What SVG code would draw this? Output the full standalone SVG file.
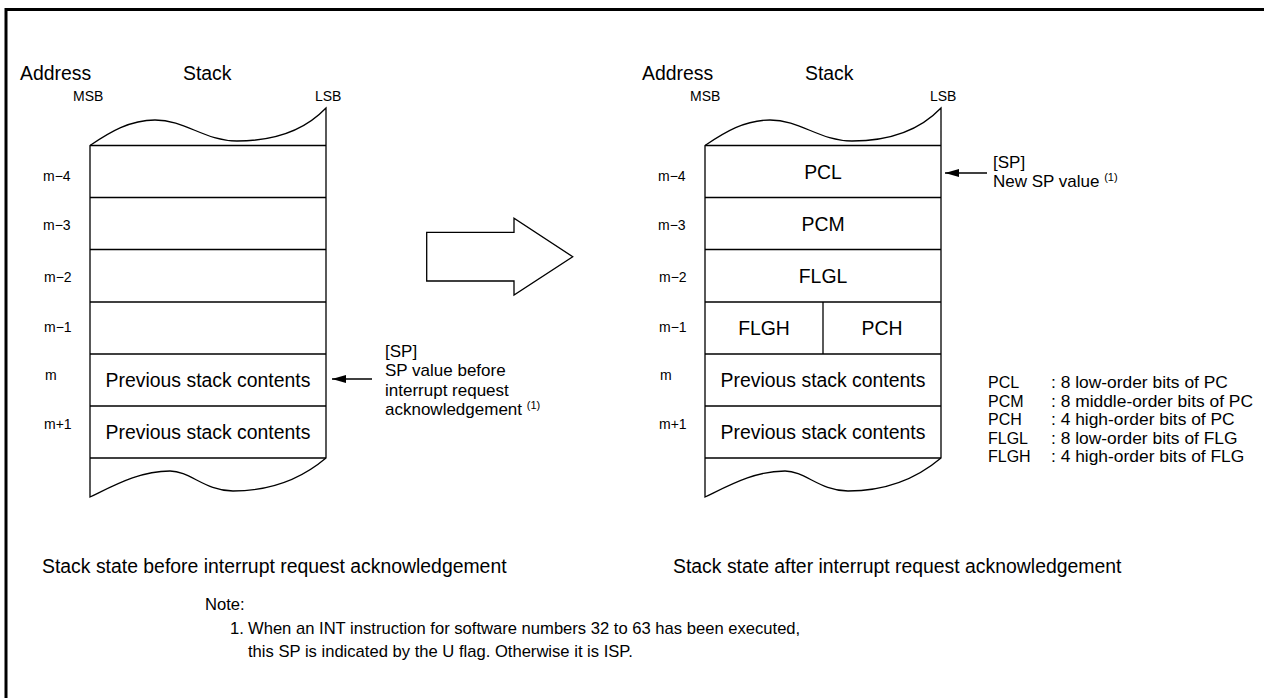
<svg xmlns="http://www.w3.org/2000/svg" width="1264" height="698" viewBox="0 0 1264 698">
<style>
text{font-family:"Liberation Sans",Arial,sans-serif;fill:#000}
.big{font-size:19.4px}
.mid{font-size:17px}
.note{font-size:16.6px}
.lbl{font-size:14px}
.leg{font-size:16px}
.desc{font-size:17.4px}
.sup{font-size:11px}
.ln{fill:none;stroke:#000;stroke-width:1.3}
.c{text-anchor:middle}
</style>
<defs>
<marker id="ah" viewBox="0 0 14 8" refX="14" refY="4" markerWidth="14" markerHeight="8" markerUnits="userSpaceOnUse" orient="auto">
<path d="M0,0 L14,4 L0,8 Z" fill="#000"/>
</marker>
</defs>
<rect width="1264" height="698" fill="#fff"/>
<rect id="frame" x="6" y="9.5" width="1300" height="720" fill="none" stroke="#000" stroke-width="3"/>

<g id="left-stack">
<text class="big" x="20" y="80">Address</text>
<text class="big" x="183" y="80">Stack</text>
<text class="lbl" x="73" y="101">MSB</text>
<text class="lbl" x="315" y="101">LSB</text>
<path class="ln" d="M90,145.5 C110,132 130,120 155,120 C185,120 205,141 237,141 C275,141 305,130 326,108 L326,458 C300,480 270,491 233,491 C205,491 190,471 170,471 C140,471 115,485 90,497 Z"/>
<g id="l-row-m4"><line class="ln" x1="90" y1="145.5" x2="326" y2="145.5"/><text class="lbl" x="43" y="181">m−4</text></g>
<g id="l-row-m3"><line class="ln" x1="90" y1="197.5" x2="326" y2="197.5"/><text class="lbl" x="43" y="230">m−3</text></g>
<g id="l-row-m2"><line class="ln" x1="90" y1="249.5" x2="326" y2="249.5"/><text class="lbl" x="44" y="282">m−2</text></g>
<g id="l-row-m1"><line class="ln" x1="90" y1="302" x2="326" y2="302"/><text class="lbl" x="44" y="332">m−1</text></g>
<g id="l-row-m"><line class="ln" x1="90" y1="354" x2="326" y2="354"/><text class="lbl" x="45" y="380">m</text><text class="big c" x="208" y="387">Previous stack contents</text></g>
<g id="l-row-m+1"><line class="ln" x1="90" y1="406" x2="326" y2="406"/><text class="lbl" x="44" y="429">m+1</text><text class="big c" x="208" y="439">Previous stack contents</text></g>
<line class="ln" x1="90" y1="458" x2="326" y2="458"/>
</g>

<g id="right-stack">
<text class="big" x="642" y="80">Address</text>
<text class="big" x="805" y="80">Stack</text>
<text class="lbl" x="690" y="101">MSB</text>
<text class="lbl" x="930" y="101">LSB</text>
<path class="ln" d="M705,145.5 C725,132 745,120 770,120 C800,120 820,141 852,141 C890,141 920,130 941,108 L941,458 C915,480 885,491 848,491 C820,491 805,471 785,471 C755,471 730,485 705,497 Z"/>
<g id="r-row-m4"><line class="ln" x1="705" y1="145.5" x2="941" y2="145.5"/><text class="lbl" x="658" y="181">m−4</text><text class="big c" x="823" y="179">PCL</text></g>
<g id="r-row-m3"><line class="ln" x1="705" y1="197.5" x2="941" y2="197.5"/><text class="lbl" x="658" y="230">m−3</text><text class="big c" x="823" y="231">PCM</text></g>
<g id="r-row-m2"><line class="ln" x1="705" y1="249.5" x2="941" y2="249.5"/><text class="lbl" x="659" y="282">m−2</text><text class="big c" x="823" y="283">FLGL</text></g>
<g id="r-row-m1"><line class="ln" x1="705" y1="302" x2="941" y2="302"/><line class="ln" x1="823" y1="302" x2="823" y2="354"/><text class="lbl" x="659" y="332">m−1</text><text class="big c" x="764" y="335">FLGH</text><text class="big c" x="882" y="335">PCH</text></g>
<g id="r-row-m"><line class="ln" x1="705" y1="354" x2="941" y2="354"/><text class="lbl" x="660" y="380">m</text><text class="big c" x="823" y="387">Previous stack contents</text></g>
<g id="r-row-m+1"><line class="ln" x1="705" y1="406" x2="941" y2="406"/><text class="lbl" x="659" y="429">m+1</text><text class="big c" x="823" y="439">Previous stack contents</text></g>
<line class="ln" x1="705" y1="458" x2="941" y2="458"/>
</g>

<g id="big-arrow">
<path d="M426.7,232.3 L514,232.3 L514,218.3 L572.7,256.7 L514,295 L514,281 L426.7,281 Z" fill="#fff" stroke="#000" stroke-width="1.3"/>
</g>

<g id="connectors">
<line class="ln" x1="372" y1="379" x2="332" y2="379" marker-end="url(#ah)"/>
<line class="ln" x1="987" y1="173" x2="945" y2="173" marker-end="url(#ah)"/>
</g>

<g id="sp-before">
<text class="mid" x="385" y="357">[SP]</text>
<text class="mid" x="385" y="376">SP value before</text>
<text class="mid" x="385" y="396">interrupt request</text>
<text class="mid" x="385" y="415">acknowledgement <tspan class="sup" dy="-6">(1)</tspan></text>
</g>
<g id="sp-after">
<text class="mid" x="993" y="168">[SP]</text>
<text class="mid" x="993" y="187">New SP value <tspan class="sup" dy="-6">(1)</tspan></text>
</g>

<g id="legend">
<text class="leg" x="988" y="388">PCL</text><text class="desc" x="1051" y="388">: 8 low-order bits of PC</text>
<text class="leg" x="988" y="406.5">PCM</text><text class="desc" x="1051" y="406.5">: 8 middle-order bits of PC</text>
<text class="leg" x="988" y="425">PCH</text><text class="desc" x="1051" y="425">: 4 high-order bits of PC</text>
<text class="leg" x="988" y="443.5">FLGL</text><text class="desc" x="1051" y="443.5">: 8 low-order bits of FLG</text>
<text class="leg" x="988" y="462">FLGH</text><text class="desc" x="1051" y="462">: 4 high-order bits of FLG</text>
</g>

<g id="captions">
<text class="big" x="42" y="573">Stack state before interrupt request acknowledgement</text>
<text class="big" x="673" y="573">Stack state after interrupt request acknowledgement</text>
</g>

<g id="notes">
<text class="note" x="205" y="610">Note:</text>
<text class="note" x="230" y="634">1.</text>
<text class="note" x="248" y="634">When an INT instruction for software numbers 32 to 63 has been executed,</text>
<text class="note" x="248" y="657">this SP is indicated by the U flag. Otherwise it is ISP.</text>
</g>
</svg>
